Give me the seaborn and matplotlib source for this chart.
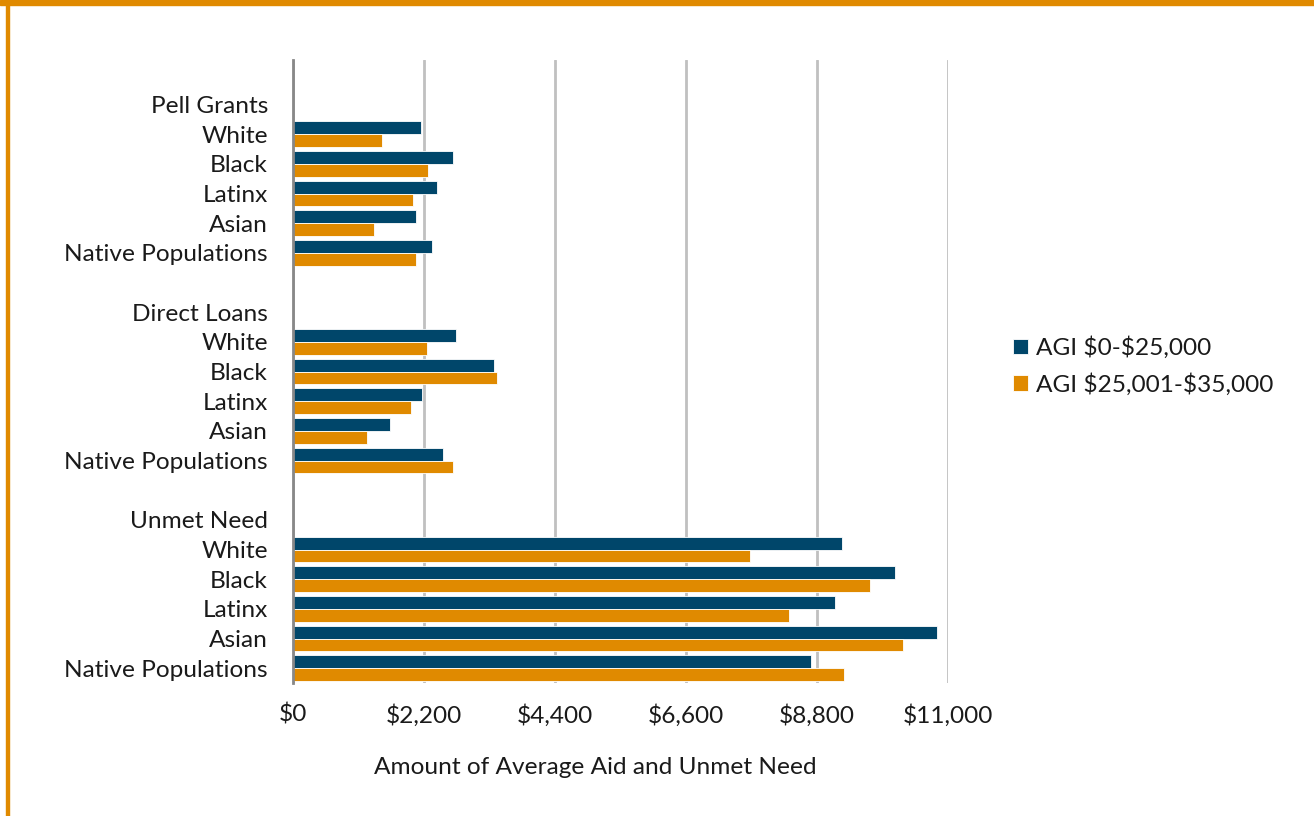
import matplotlib
matplotlib.use("Agg")
import matplotlib.pyplot as plt
import seaborn as sns
import pandas as pd
from matplotlib.patches import Rectangle
from matplotlib.ticker import FuncFormatter

groups = ["Pell Grants", "Direct Loans", "Unmet Need"]
races = ["White", "Black", "Latinx", "Asian", "Native Populations"]
series = ["AGI $0-$25,000", "AGI $25,001-$35,000"]

pell_low = [2149, 2683, 2419, 2065, 2339]
pell_mid = [1498, 2272, 2010, 1353, 2065]
loan_low = [2733, 3383, 2166, 1627, 2520]
loan_mid = [2250, 3433, 1976, 1235, 2693]
unmet_low = [9223, 10105, 9095, 10817, 8701]
unmet_mid = [7670, 9694, 8326, 10239, 9246]

xticks = [0, 2200, 4400, 6600, 8800, 11000]

values = {
    "Pell Grants": (pell_low, pell_mid),
    "Direct Loans": (loan_low, loan_mid),
    "Unmet Need": (unmet_low, unmet_mid),
}

rows = []
for g in groups:
    low, mid = values[g]
    for r, a, b in zip(races, low, mid):
        rows.append({"key": f"{g}|{r}", "series": series[0], "value": a})
        rows.append({"key": f"{g}|{r}", "series": series[1], "value": b})
df = pd.DataFrame(rows)

order = []
labels = []
for i, g in enumerate(groups):
    order.append(f"blank{i}")
    labels.append("")
    order.append(f"{g}|header")
    labels.append(g)
    for r in races:
        order.append(f"{g}|{r}")
        labels.append(r)

dark = "#00466A"
orange = "#E08A00"
fs = 17.6

sns.set_theme(style="white")
plt.rcParams["font.family"] = ["Lato", "DejaVu Sans"]

fig = plt.figure(figsize=(13.14, 8.16), dpi=100)
ax = fig.add_axes([293 / 1314, 1 - 683 / 816, (948 - 293) / 1314, (683 - 60) / 816])

sns.barplot(data=df, x="value", y="key", hue="series", order=order,
            hue_order=series, palette=[dark, orange], orient="h",
            width=0.86, ax=ax, edgecolor="white", linewidth=0.6,
            saturation=1)

ax.set_xlim(0, 11000)
ax.set_ylim(len(order) - 0.5, -0.5)
ax.set_xticks(xticks)
ax.xaxis.set_major_formatter(FuncFormatter(lambda v, p: f"${v:,.0f}"))
ax.set_yticks(range(len(order)))
ax.set_yticklabels(labels)
ax.tick_params(axis="y", length=0, pad=18, labelsize=fs, labelcolor="#1a1a1a")
ax.tick_params(axis="x", length=0, pad=15, labelsize=fs, labelcolor="#1a1a1a")

ax.grid(axis="x", color="#c0c0c0", linewidth=2)
ax.set_axisbelow(True)
for s in ["top", "right", "bottom"]:
    ax.spines[s].set_visible(False)
ax.spines["left"].set_color("#888888")
ax.spines["left"].set_linewidth(2)
ax.spines["left"].set_zorder(3)

ax.set_ylabel("")
ax.set_xlabel("Amount of Average Aid and Unmet Need", fontsize=fs, color="#1a1a1a")
ax.xaxis.set_label_coords((595 - 293) / 655, (683 - 768) / 623)
ax.xaxis.label.set_va("center")

handles, _ = ax.get_legend_handles_labels()
legend_labels = [s.replace("$", r"\$") for s in series]
ax.legend(handles, legend_labels, loc="center left",
          bbox_to_anchor=(991 / 1314, 1 - 366 / 816),
          bbox_transform=fig.transFigure, frameon=False, fontsize=fs,
          handlelength=0.6, handleheight=0.6, handletextpad=0.35,
          labelspacing=0.55, labelcolor="#1a1a1a")

fig.patches.append(Rectangle((0, 1 - 5 / 816), 1, 5 / 816,
                             transform=fig.transFigure, color=orange, zorder=10))
fig.patches.append(Rectangle((6 / 1314, 0), 2.5 / 1314, 1,
                             transform=fig.transFigure, color=orange, zorder=10))

fig.savefig("out.png", dpi=100, facecolor="white")
